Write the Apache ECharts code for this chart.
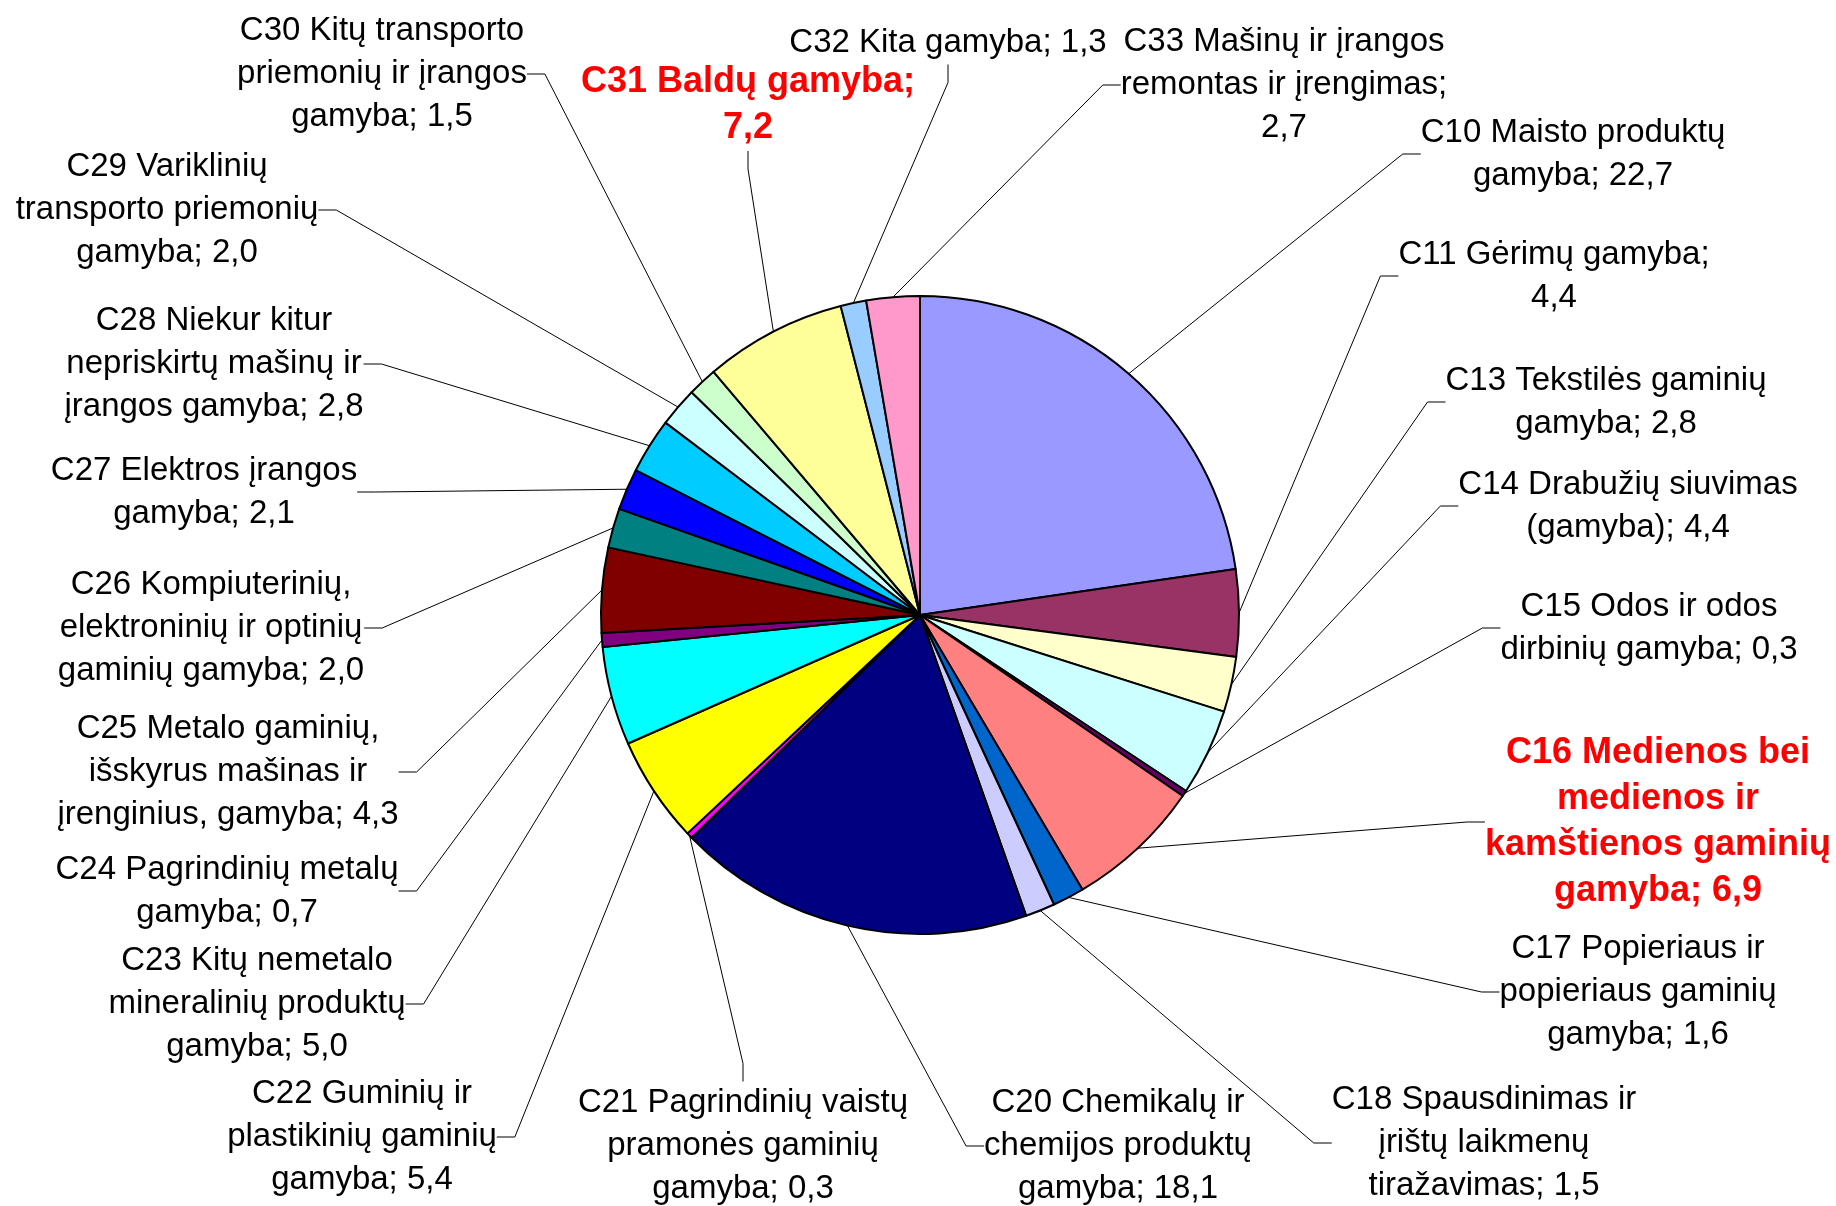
<!DOCTYPE html>
<html>
<head>
<meta charset="utf-8">
<script src="https://cdn.jsdelivr.net/npm/echarts@6/dist/echarts.min.js"></script>
<style>
html, body { margin: 0; padding: 0; background: #fff; }
#chart { width: 1836px; height: 1206px; }
</style>
</head>
<body>
<div id="chart"></div>
<script>
// veiklos rūšys (pagal laikrodžio rodyklę nuo viršaus)
var categories = [
	"C10 Maisto produktų\ngamyba",
	"C11 Gėrimų gamyba",
	"C13 Tekstilės gaminių\ngamyba",
	"C14 Drabužių siuvimas\n(gamyba)",
	"C15 Odos ir odos\ndirbinių gamyba",
	"C16 Medienos bei\nmedienos ir\nkamštienos gaminių\ngamyba",
	"C17 Popieriaus ir\npopieriaus gaminių\ngamyba",
	"C18 Spausdinimas ir\nįrištų laikmenų\ntiražavimas",
	"C20 Chemikalų ir\nchemijos produktų\ngamyba",
	"C21 Pagrindinių vaistų\npramonės gaminių\ngamyba",
	"C22 Guminių ir\nplastikinių gaminių\ngamyba",
	"C23 Kitų nemetalo\nmineralinių produktų\ngamyba",
	"C24 Pagrindinių metalų\ngamyba",
	"C25 Metalo gaminių,\nišskyrus mašinas ir\nįrenginius, gamyba",
	"C26 Kompiuterinių,\nelektroninių ir optinių\ngaminių gamyba",
	"C27 Elektros įrangos\ngamyba",
	"C28 Niekur kitur\nnepriskirtų mašinų ir\nįrangos gamyba",
	"C29 Variklinių\ntransporto priemonių\ngamyba",
	"C30 Kitų transporto\npriemonių ir įrangos\ngamyba",
	"C31 Baldų gamyba",
	"C32 Kita gamyba",
	"C33 Mašinų ir įrangos\nremontas ir įrengimas"
];
var values = [22.7, 4.4, 2.8, 4.4, 0.3, 6.9, 1.6, 1.5, 18.1, 0.3, 5.4, 5.0, 0.7, 4.3, 2.0, 2.1, 2.8, 2.0, 1.5, 7.2, 1.3, 2.7];

// spalvos ir etikečių išdėstymas
var colors = ["#9999FF", "#993366", "#FFFFCC", "#CCFFFF", "#660066", "#FF8080", "#0066CC", "#CCCCFF",
	"#000080", "#FF00FF", "#FFFF00", "#00FFFF", "#800080", "#800000", "#008080", "#0000FF",
	"#00CCFF", "#CCFFFF", "#CCFFCC", "#FFFF99", "#99CCFF", "#FF99CC"];
var valueOnNewLine = ["C11", "C31", "C33"];
var highlighted = ["C16", "C31"];
var labelPos = [
	[1573, 154], [1554, 276], [1606, 402], [1628, 506], [1649, 628], [1658, 822],
	[1638, 992], [1484, 1143], [1118, 1146], [743, 1146], [362, 1137], [257, 1004],
	[227, 891], [228, 772], [211, 628], [204, 492], [214, 364], [167, 210],
	[382, 74], [748, 105], [948, 43], [1284, 85]
];

function fmtValue(v){
	return v.toFixed(1).replace(".", ",");
}

var seriesData = [];
for(var i = 0; i < categories.length; i++){
	var code = categories[i].split(" ")[0];
	var d = { name: categories[i], value: values[i] };
	if(highlighted.indexOf(code) >= 0){
		d.label = { color: "#FF0000", fontWeight: "bold", fontSize: 36, lineHeight: 46 };
	}
	seriesData.push(d);
}

var theChart = echarts.init(document.getElementById("chart"), null, { renderer: "canvas" });

var option = {
	backgroundColor: "#ffffff",
	animation: false,
	color: colors,
	series: [
		{
			type: "pie",
			center: [920, 615],
			radius: [0, 319],
			startAngle: 90,
			clockwise: true,
			avoidLabelOverlap: false,
			itemStyle: {
				borderColor: "#000000",
				borderWidth: 2
			},
			label: {
				show: true,
				position: "outside",
				fontFamily: "Liberation Sans",
				fontSize: 33,
				lineHeight: 43,
				color: "#000000",
				align: "center",
				formatter: function(p){
					var code = p.name.split(" ")[0];
					var sep = valueOnNewLine.indexOf(code) >= 0 ? "\n" : " ";
					return p.name + ";" + sep + fmtValue(p.value);
				}
			},
			labelLine: {
				show: true,
				length: 20,
				length2: 18,
				minTurnAngle: 0,
				lineStyle: { color: "#000000", width: 1 }
			},
			labelLayout: function(params){
				var pos = labelPos[params.dataIndex];
				return {
					x: pos[0],
					y: pos[1],
					align: "center",
					verticalAlign: "middle"
				};
			},
			emphasis: { disabled: true },
			data: seriesData
		}
	]
};

theChart.setOption(option);
</script>
</body>
</html>
